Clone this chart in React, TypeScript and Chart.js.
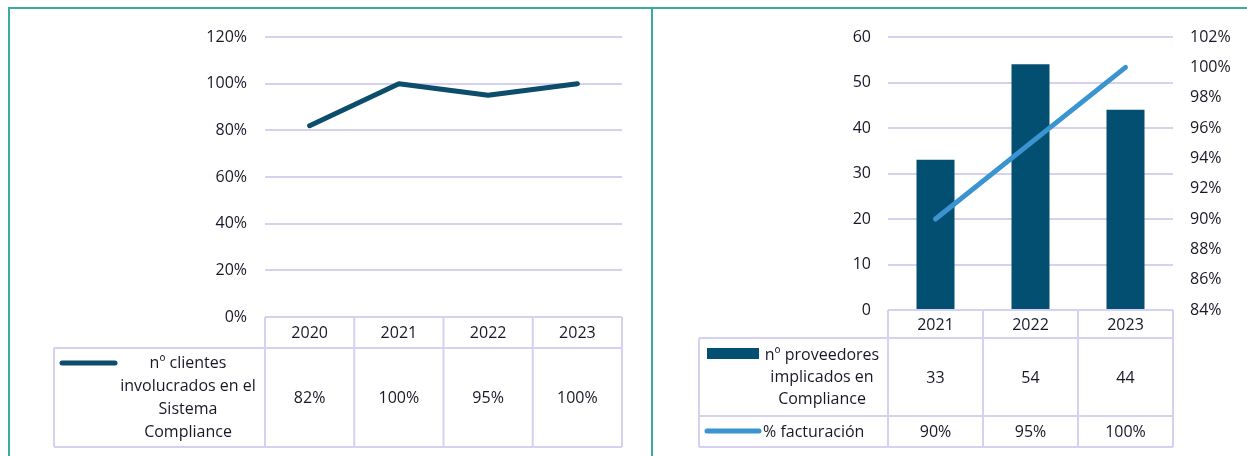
import React, { useEffect, useRef } from "react";
import { Chart, registerables } from "chart.js";
Chart.register(...registerables);

// ---- data ----
const leftYears = ["2020", "2021", "2022", "2023"];
const clientesValues = [82, 100, 95, 100];
const clientesLabel = ["nº clientes", "involucrados en el", "Sistema", "Compliance"];
const leftTickMin = 0;
const leftTickMax = 120;
const leftTickStep = 20;

const rightYears = ["2021", "2022", "2023"];
const proveedoresValues = [33, 54, 44];
const facturacionValues = [90, 95, 100];
const proveedoresLabel = ["nº proveedores", "implicados en", "Compliance"];
const facturacionLabel = "% facturación";
const rightTickMin = 0;
const rightTickMax = 60;
const rightTickStep = 10;
const pctTickMin = 84;
const pctTickMax = 102;
const pctTickStep = 2;

// ---- styles ----
const FONT = "'Open Sans', sans-serif";
const FS = 16;
const TEXT = "#181828";
const GRID = "#d6d1f0";
const NAVY = "#034f71";
const NAVY_LINE = "#0c4d6b";
const LIGHT_BLUE = "#3a94d0";
const TEAL = "#3aab9d";

function hline(ctx, x1, x2, y) {
  ctx.beginPath();
  ctx.moveTo(x1, y);
  ctx.lineTo(x2, y);
  ctx.stroke();
}
function vline(ctx, x, y1, y2) {
  ctx.beginPath();
  ctx.moveTo(x, y1);
  ctx.lineTo(x, y2);
  ctx.stroke();
}

const leftTablePlugin = {
  id: "leftTable",
  afterDraw(chart) {
    const ctx = chart.ctx;
    const a = chart.chartArea;
    const n = leftYears.length;
    const w = (a.right - a.left) / n;
    const top = a.bottom;
    const hdrB = 348;
    const bot = 447;
    const legL = 54;
    ctx.save();
    ctx.strokeStyle = GRID;
    ctx.lineWidth = 2;
    hline(ctx, a.left, a.right, top);
    hline(ctx, legL, a.right, hdrB);
    hline(ctx, legL, a.right, bot);
    vline(ctx, legL, hdrB, bot);
    for (let i = 0; i <= n; i++) vline(ctx, a.left + i * w, top, bot);
    ctx.font = `${FS}px ${FONT}`;
    ctx.fillStyle = TEXT;
    ctx.textAlign = "center";
    ctx.textBaseline = "middle";
    for (let i = 0; i < n; i++) {
      const cx = a.left + (i + 0.5) * w;
      ctx.fillText(leftYears[i], cx, 333);
      ctx.fillText(clientesValues[i] + "%", cx, 398);
    }
    const ys = [363, 386, 409, 432];
    clientesLabel.forEach((t, i) => ctx.fillText(t, 188, ys[i]));
    ctx.strokeStyle = NAVY_LINE;
    ctx.lineWidth = 5;
    ctx.lineCap = "round";
    hline(ctx, 62, 115, 363);
    ctx.restore();
  },
};

const rightTablePlugin = {
  id: "rightTable",
  afterDraw(chart) {
    const ctx = chart.ctx;
    const a = chart.chartArea;
    const n = rightYears.length;
    const w = (a.right - a.left) / n;
    const top = a.bottom;
    const hdrB = 338;
    const midB = 416;
    const bot = 447;
    const legL = 46;
    ctx.save();
    ctx.strokeStyle = GRID;
    ctx.lineWidth = 2;
    hline(ctx, a.left, a.right, top);
    hline(ctx, legL, a.right, hdrB);
    hline(ctx, legL, a.right, midB);
    hline(ctx, legL, a.right, bot);
    vline(ctx, legL, hdrB, bot);
    for (let i = 0; i <= n; i++) vline(ctx, a.left + i * w, top, bot);
    ctx.font = `${FS}px ${FONT}`;
    ctx.fillStyle = TEXT;
    ctx.textAlign = "center";
    ctx.textBaseline = "middle";
    for (let i = 0; i < n; i++) {
      const cx = a.left + (i + 0.5) * w;
      ctx.fillText(rightYears[i], cx, 325);
      ctx.fillText(String(proveedoresValues[i]), cx, 378);
      ctx.fillText(facturacionValues[i] + "%", cx, 432);
    }
    const ys = [355, 377, 399];
    proveedoresLabel.forEach((t, i) => ctx.fillText(t, 169, ys[i]));
    ctx.textAlign = "left";
    ctx.fillText(facturacionLabel, 110, 432);
    ctx.fillStyle = NAVY;
    ctx.fillRect(54, 348, 52, 11);
    ctx.strokeStyle = LIGHT_BLUE;
    ctx.lineWidth = 5;
    ctx.lineCap = "round";
    hline(ctx, 54, 106, 431);
    ctx.restore();
  },
};

function LeftChart() {
  const ref = useRef(null);
  useEffect(() => {
    const chart = new Chart(ref.current, {
      type: "line",
      data: {
        labels: leftYears,
        datasets: [
          {
            label: clientesLabel.join(" "),
            data: clientesValues,
            borderColor: NAVY_LINE,
            borderWidth: 5,
            pointRadius: 0,
            tension: 0,
            borderCapStyle: "round",
            borderJoinStyle: "round",
          },
        ],
      },
      options: {
        responsive: false,
        animation: false,
        layout: { padding: { top: 37, bottom: 139, left: 0, right: 30 } },
        plugins: { legend: { display: false }, tooltip: { enabled: false } },
        scales: {
          x: { type: "category", display: false, offset: true },
          y: {
            min: leftTickMin,
            max: leftTickMax,
            ticks: {
              stepSize: leftTickStep,
              callback: (v) => v + "%",
              font: { family: FONT, size: FS },
              color: TEXT,
              padding: 18,
            },
            grid: { color: GRID, lineWidth: 2, drawTicks: false },
            border: { display: false },
            afterFit: (s) => {
              s.width = 265;
            },
          },
        },
      },
      plugins: [leftTablePlugin],
    });
    return () => chart.destroy();
  }, []);
  return (
    <canvas
      ref={ref}
      width={652}
      height={456}
      style={{ position: "absolute", left: 0, top: 0, width: 652, height: 456 }}
    />
  );
}

function RightChart() {
  const ref = useRef(null);
  useEffect(() => {
    const chart = new Chart(ref.current, {
      type: "bar",
      data: {
        labels: rightYears,
        datasets: [
          {
            type: "line",
            label: facturacionLabel,
            data: facturacionValues,
            yAxisID: "y1",
            borderColor: LIGHT_BLUE,
            borderWidth: 5,
            pointRadius: 0,
            tension: 0,
            borderCapStyle: "round",
            order: 1,
          },
          {
            type: "bar",
            label: proveedoresLabel.join(" "),
            data: proveedoresValues,
            yAxisID: "y",
            backgroundColor: NAVY,
            categoryPercentage: 1,
            barPercentage: 0.4,
            order: 2,
          },
        ],
      },
      options: {
        responsive: false,
        animation: false,
        layout: { padding: { top: 37, bottom: 146, left: 0, right: 0 } },
        plugins: { legend: { display: false }, tooltip: { enabled: false } },
        scales: {
          x: { type: "category", display: false, offset: true },
          y: {
            position: "left",
            min: rightTickMin,
            max: rightTickMax,
            ticks: {
              stepSize: rightTickStep,
              font: { family: FONT, size: FS },
              color: TEXT,
              padding: 17,
            },
            grid: { color: GRID, lineWidth: 2, drawTicks: false },
            border: { display: false },
            afterFit: (s) => {
              s.width = 235;
            },
          },
          y1: {
            position: "right",
            min: pctTickMin,
            max: pctTickMax,
            ticks: {
              stepSize: pctTickStep,
              callback: (v) => v + "%",
              font: { family: FONT, size: FS },
              color: TEXT,
              padding: 17,
            },
            grid: { display: false, drawTicks: false },
            border: { display: false },
            afterFit: (s) => {
              s.width = 74;
            },
          },
        },
      },
      plugins: [rightTablePlugin],
    });
    return () => chart.destroy();
  }, []);
  return (
    <canvas
      ref={ref}
      width={594}
      height={456}
      style={{ position: "absolute", left: 653, top: 0, width: 594, height: 456 }}
    />
  );
}

export default function App() {
  return (
    <div
      style={{
        position: "absolute",
        left: 0,
        top: 0,
        width: 1247,
        height: 456,
        background: "#ffffff",
        overflow: "hidden",
      }}
    >
      <LeftChart />
      <RightChart />
      <div style={{ position: "absolute", left: 8, top: 7, width: 1239, height: 2, background: TEAL }} />
      <div style={{ position: "absolute", left: 8, top: 7, width: 2, height: 449, background: TEAL }} />
      <div style={{ position: "absolute", left: 651, top: 7, width: 2, height: 449, background: TEAL }} />
    </div>
  );
}
